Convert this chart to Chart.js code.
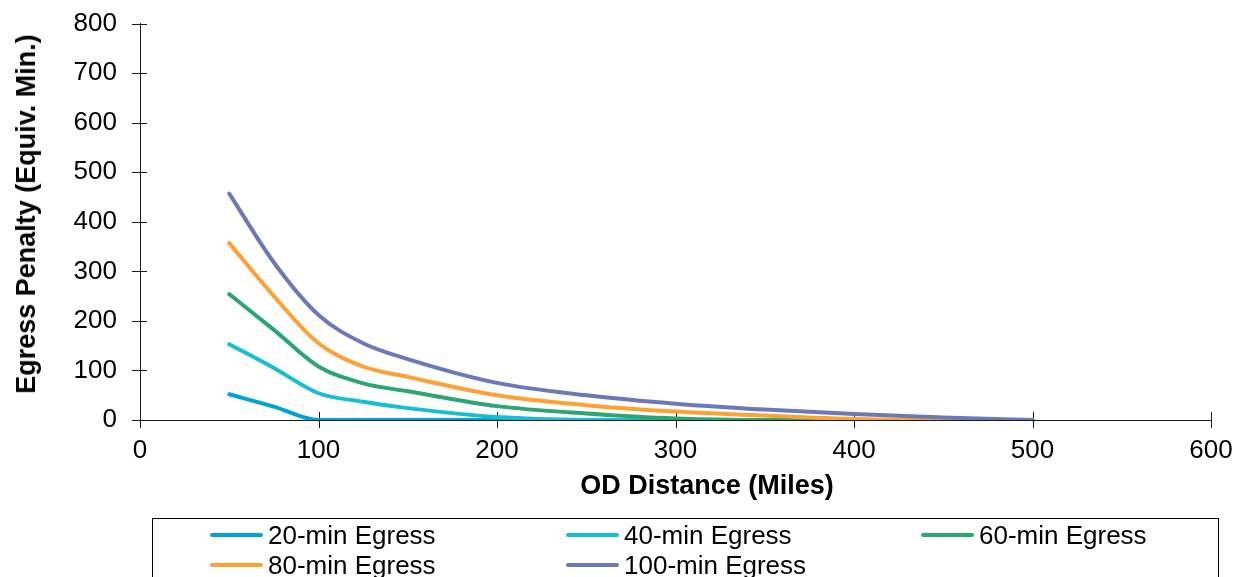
<!DOCTYPE html>
<html>
<head>
<meta charset="utf-8">
<script src="https://cdn.jsdelivr.net/npm/chart.js@4.4.1/dist/chart.umd.min.js"></script>
<style>
html,body{margin:0;padding:0;background:#fff;overflow:hidden;}
#wrap{position:absolute;left:0;top:0;width:1243px;height:577px;}
#legendBox{position:absolute;left:152px;top:518px;width:1067px;height:80px;border:1px solid #000;box-sizing:border-box;}
.item{position:absolute;height:30px;line-height:30px;font-size:26px;font-family:"Liberation Sans",Arial,sans-serif;color:#000;white-space:nowrap;}
.item .sw{position:absolute;left:0;top:13px;width:53px;height:4px;border-radius:2px;}
.item .tx{position:absolute;left:58px;top:0;}
.atitle{position:absolute;font-family:"Liberation Sans",Arial,sans-serif;font-weight:bold;font-size:27px;line-height:32px;color:#000;white-space:nowrap;}
</style>
</head>
<body>
<div id="wrap">
<canvas id="c" width="1243" height="577"></canvas>
<div id="legendBox"></div>
<div id="xTitle" class="atitle" style="left:707px;top:485px;transform:translate(-50%,-50%);"></div>
<div id="yTitle" class="atitle" style="left:26px;top:214px;transform:translate(-50%,-50%) rotate(-90deg);"></div>
</div>
<script>
// ---- data ----
const distances = [50, 75, 100, 125, 150, 200, 250, 300, 350, 400, 450, 500];
const egress20  = [52, 27, 0, 0, 0, 0, 0, 0, 0, 0, 0, 0];
const egress40  = [153, 105, 54, 37, 24, 6, 0, 0, 0, 0, 0, 0];
const egress60  = [254, 182, 108, 74, 58, 28, 13, 3, 0, 0, 0, 0];
const egress80  = [357, 250, 155, 108, 87, 50, 30, 17, 9, 2, 0, 0];
const egress100 = [457, 318, 212, 155, 123, 75, 50, 33, 21, 12, 5, 0];
const seriesLabels = ['20-min Egress', '40-min Egress', '60-min Egress', '80-min Egress', '100-min Egress'];
const seriesValues = [egress20, egress40, egress60, egress80, egress100];
const seriesColors = ['#00A3D7', '#14BFD3', '#2AA574', '#FFA033', '#6C79B8'];
const xTicks = { min: 0, max: 600, step: 100 };
const yTicks = { min: 0, max: 800, step: 100 };
const xTitle = 'OD Distance (Miles)';
const yTitle = 'Egress Penalty (Equiv. Min.)';

const FONT = '"Liberation Sans", Arial, sans-serif';
const AXIS = '#1a1a1a';

document.getElementById('xTitle').textContent = xTitle;
document.getElementById('yTitle').textContent = yTitle;

const datasets = seriesValues.map((vals, i) => ({
  label: seriesLabels[i],
  data: distances.map((d, j) => ({ x: d, y: vals[j] })),
  borderColor: seriesColors[i],
  backgroundColor: seriesColors[i],
  borderWidth: 4,
  pointRadius: 0,
  pointHoverRadius: 0,
  cubicInterpolationMode: 'monotone',
  borderCapStyle: 'round',
  borderJoinStyle: 'round',
  fill: false,
  order: seriesValues.length - 1 - i
}));

const tickMarks = {
  id: 'tickMarks',
  beforeDatasetsDraw(chart) {
    const { ctx, scales: { x, y } } = chart;
    ctx.save();
    ctx.strokeStyle = AXIS;
    ctx.lineWidth = 1;
    ctx.beginPath();
    x.ticks.forEach(t => {
      const px = Math.round(x.getPixelForValue(t.value)) + 0.5;
      ctx.moveTo(px, x.top - 8);
      ctx.lineTo(px, x.top + 8);
    });
    y.ticks.forEach(t => {
      const py = Math.round(y.getPixelForValue(t.value)) + 0.5;
      ctx.moveTo(y.right - 8, py);
      ctx.lineTo(y.right + 7, py);
    });
    ctx.stroke();
    ctx.restore();
  }
};

new Chart(document.getElementById('c'), {
  type: 'line',
  data: { datasets },
  options: {
    responsive: false,
    animation: false,
    devicePixelRatio: 1,
    layout: { padding: { left: 0, right: 32, top: 23.7, bottom: 76 } },
    plugins: { legend: { display: false }, tooltip: { enabled: false } },
    scales: {
      x: {
        type: 'linear',
        min: xTicks.min, max: xTicks.max,
        afterFit(s) { s.height = 81; s.paddingLeft = 0; s.paddingRight = 0; },
        grid: { display: false, drawTicks: false, tickLength: 0 },
        border: { display: true, color: AXIS, width: 1 },
        ticks: { stepSize: xTicks.step, padding: 15, color: '#000', font: { family: FONT, size: 26 }, maxRotation: 0 },
        title: { display: false }
      },
      y: {
        type: 'linear',
        min: yTicks.min, max: yTicks.max,
        afterFit(s) { s.width = 140; s.paddingTop = 0; s.paddingBottom = 0; },
        grid: { display: false, drawTicks: false, tickLength: 0 },
        border: { display: true, color: AXIS, width: 1 },
        ticks: { stepSize: yTicks.step, padding: 23, color: '#000', font: { family: FONT, size: 26 } },
        title: { display: false }
      }
    }
  },
  plugins: [tickMarks]
});

// legend (HTML)
const colX = [210, 566, 921];
const rowTop = [519.5, 549.5];
const wrap = document.getElementById('wrap');
seriesLabels.forEach((lab, i) => {
  const it = document.createElement('div');
  it.className = 'item';
  it.style.left = colX[i % 3] + 'px';
  it.style.top = rowTop[Math.floor(i / 3)] + 'px';
  const sw = document.createElement('span');
  sw.className = 'sw';
  sw.style.background = seriesColors[i];
  const tx = document.createElement('span');
  tx.className = 'tx';
  tx.textContent = lab;
  it.appendChild(sw);
  it.appendChild(tx);
  wrap.appendChild(it);
});
</script>
</body>
</html>
